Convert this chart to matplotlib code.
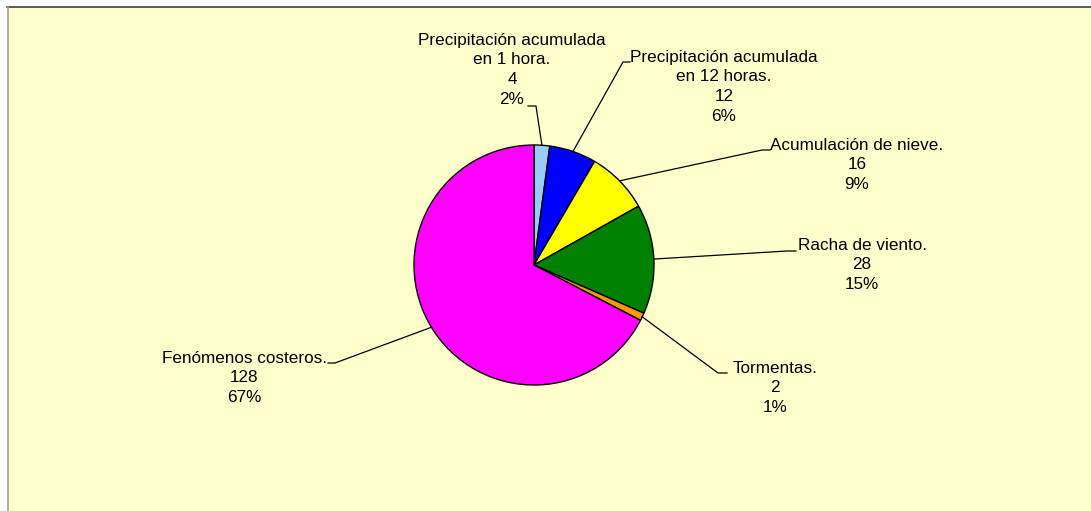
import numpy as np
import matplotlib
matplotlib.use("Agg")
import matplotlib.pyplot as plt
from matplotlib.patches import Rectangle

# Data
categories = [
    "Precipitación acumulada\nen 1 hora.",
    "Precipitación acumulada\nen 12 horas.",
    "Acumulación de nieve.",
    "Racha de viento.",
    "Tormentas.",
    "Fenómenos costeros.",
]
counts = [4, 12, 16, 28, 2, 128]
pct_labels = ["2%", "6%", "9%", "15%", "1%", "67%"]
colors = ["#99CCFF", "#0000FF", "#FFFF00", "#008000", "#FF9900", "#FF00FF"]

W, H = 1091, 511
plt.rcParams["font.family"] = ["Liberation Sans", "DejaVu Sans"]
fig = plt.figure(figsize=(W / 100, H / 100), dpi=100)
fig.patch.set_facecolor("white")
ax = fig.add_axes([0, 0, 1, 1])


def Y(py):
    # convert a top-down pixel row to data y
    return H - py


# chart area
ax.add_patch(Rectangle((7, 0), W - 7, Y(7), facecolor="#FFFFCC", edgecolor="none", zorder=0))
ax.plot([7, W], [Y(7), Y(7)], color="#404040", lw=1.2, zorder=1)
ax.plot([7.5, 7.5], [0, Y(7)], color="#A0A0A0", lw=1.2, zorder=1)

cx, cy, r = 534, Y(265), 120
wedges, _ = ax.pie(counts, colors=colors, startangle=90, counterclock=False,
                   center=(cx, cy), radius=r, frame=True,
                   wedgeprops=dict(edgecolor="black", linewidth=1.0))
ax.set_xlim(0, W)
ax.set_ylim(0, H)
ax.set_aspect("equal")
ax.axis("off")

# label layout: text centre x, first line centre y, elbow point, leader end point (pixels)
label_x = [512, 724, 857, 862, 775, 244]
label_y0 = [40, 57, 145, 245, 368, 358]
elbows = [(536, 106), (623, 62), (762, 150), (787, 251), (718, 373), (335, 363)]
ends = [(528, 106), (630, 62), (770, 150), (796, 251), (727, 373), (328, 363)]

line_h = 19.8
for i, w in enumerate(wedges):
    text = f"{categories[i]}\n{counts[i]}\n{pct_labels[i]}"
    nlines = text.count("\n") + 1
    ymid = label_y0[i] + (nlines - 1) * line_h / 2
    ax.text(label_x[i], Y(ymid), text, ha="center", va="center", fontsize=12.3,
            linespacing=1.38, color="black", zorder=5)
    ang = np.deg2rad((w.theta1 + w.theta2) / 2)
    ex, ey = cx + r * np.cos(ang), cy + r * np.sin(ang)
    bx, by = elbows[i]
    tx, ty = ends[i]
    ax.plot([ex, bx, tx], [ey, Y(by), Y(ty)], color="black", lw=0.9, zorder=4)

fig.savefig("out.png", dpi=100, facecolor="white")
